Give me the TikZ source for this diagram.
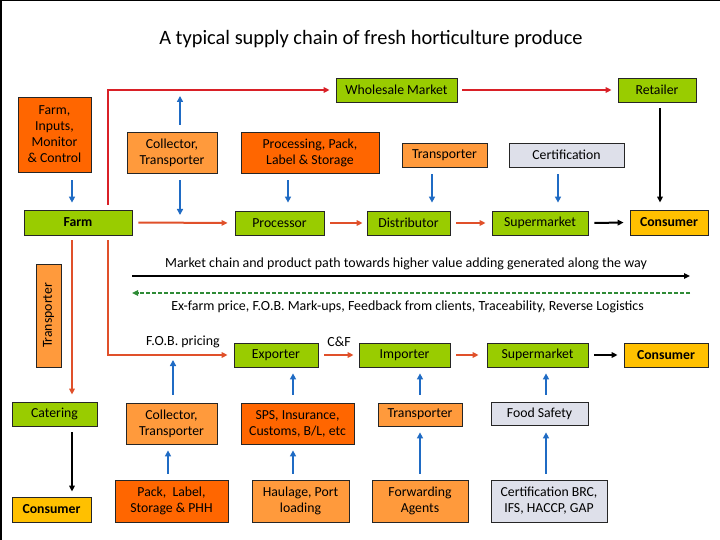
\documentclass[tikz,border=0pt]{standalone}
\usepackage{fontspec}
\setmainfont{Carlito}
\usetikzlibrary{arrows.meta}
\definecolor{boxgreen}{HTML}{99CC00}
\definecolor{darkor}{HTML}{FF6600}
\definecolor{lightor}{HTML}{FF9A3C}
\definecolor{greybox}{HTML}{DEE0EA}
\definecolor{goldbox}{HTML}{FFC000}
\definecolor{redl}{HTML}{D92027}
\definecolor{orl}{HTML}{E0502A}
\definecolor{bluel}{HTML}{1F6BC4}
\definecolor{greendash}{HTML}{2E8B36}
\begin{document}
\begin{tikzpicture}[x=1bp,y=-1bp,
  box/.style={draw=black!85, line width=0.8bp, inner sep=0pt, align=center, font=\fontsize{13.8}{16}\selectfont},
  gbox/.style={box, fill=boxgreen},
  dobox/.style={box, fill=darkor},
  lobox/.style={box, fill=lightor},
  grbox/.style={box, fill=greybox},
  cbox/.style={box, fill=goldbox, font=\fontsize{13.8}{16}\selectfont\bfseries},
  lbl/.style={inner sep=0pt, font=\fontsize{14}{16}\selectfont},
  bluearr/.style={draw=bluel, line width=2.2bp, -{Triangle[length=6bp,width=6bp]}},
  oarr/.style={draw=orl, line width=2bp, -{Triangle[length=6bp,width=5.5bp]}},
  rarr/.style={draw=redl, line width=2bp, -{Triangle[length=6bp,width=5.5bp]}},
  karr/.style={draw=black, line width=2bp, -{Triangle[length=6bp,width=5.5bp]}},
]
\useasboundingbox (0,0) rectangle (720,540);
\fill[white] (0,0) rectangle (720,540);
\draw[black, line width=1.2bp] (0,0.6) -- (720,0.6);
\draw[black, line width=2bp] (1,0) -- (1,540);

\node[inner sep=0pt, font=\fontsize{20.5}{22}\selectfont] (title) at (371,39) {A typical supply chain of fresh horticulture produce};

% top row
\node[dobox, minimum width=73bp, minimum height=75bp] (inputs) at (54.5,134.5) {Farm,\\Inputs,\\Monitor\\\& Control};
\node[lobox, minimum width=90bp, minimum height=41bp] (coll1) at (172,152.5) {Collector,\\Transporter};
\node[dobox, minimum width=138bp, minimum height=41bp] (proc1) at (310,152.5) {Processing, Pack,\\Label \& Storage};
\node[gbox, minimum width=121bp, minimum height=24bp] (wholesale) at (396.5,90) {Wholesale Market};
\node[gbox, minimum width=78bp, minimum height=24bp] (retailer) at (657,90) {Retailer};
\node[lobox, minimum width=85bp, minimum height=24bp] (trans1) at (444.5,155) {Transporter};
\node[grbox, minimum width=115bp, minimum height=24bp] (cert1) at (566.5,155) {Certification};

\node[gbox, minimum width=108bp, minimum height=25bp, font=\fontsize{13.8}{16}\selectfont\bfseries] (farm) at (78,222.5) {Farm};
\node[gbox, minimum width=89bp, minimum height=24bp] (processor) at (279.5,223) {Processor};
\node[gbox, minimum width=83bp, minimum height=24bp] (distributor) at (408.5,223) {Distributor};
\node[gbox, minimum width=96bp, minimum height=24bp] (super1) at (540,223) {Supermarket};
\node[cbox, minimum width=78bp, minimum height=25bp] (consumer1) at (669,222.5) {Consumer};

% middle
\node[lobox, rotate=90, minimum width=103bp, minimum height=25bp] (transV) at (48.5,315.5) {Transporter};
\node[lbl] (mctext) at (406,264) {Market chain and product path towards higher value adding generated along the way};
\coordinate (mcA) at (132,276);
\coordinate (mcB) at (690,276);
\draw[karr] (mcA) -- (mcB);
\coordinate (fbA) at (690,293);
\coordinate (fbB) at (132,293);
\draw[draw=greendash, line width=1.8bp, dash pattern=on 4bp off 2bp, -{Triangle[length=6bp,width=5.5bp]}] (fbA) -- (fbB);
\node[lbl] (fbtext) at (407.5,307) {Ex-farm price, F.O.B. Mark-ups, Feedback from clients, Traceability, Reverse Logistics};
\node[lbl] (fob) at (183,342) {F.O.B. pricing};
\node[lbl] (cf) at (339,342) {C\&F};

\node[gbox, minimum width=84bp, minimum height=24bp] (exporter) at (276,355) {Exporter};
\node[gbox, minimum width=91bp, minimum height=24bp] (importer) at (404.5,355) {Importer};
\node[gbox, minimum width=101bp, minimum height=24bp] (super2) at (537.5,355) {Supermarket};
\node[cbox, minimum width=84bp, minimum height=24bp] (consumer2) at (666,355) {Consumer};

% bottom
\node[gbox, minimum width=85bp, minimum height=24bp] (catering) at (54.5,414) {Catering};
\node[cbox, minimum width=79bp, minimum height=25bp] (consumer3) at (51.5,509.5) {Consumer};
\node[lobox, minimum width=91bp, minimum height=41bp] (coll2) at (171.5,423.5) {Collector,\\Transporter};
\node[dobox, minimum width=113bp, minimum height=41bp] (sps) at (297.5,423.5) {SPS, Insurance,\\Customs, B/L, etc};
\node[lobox, minimum width=84bp, minimum height=23bp] (trans2) at (420,414.5) {Transporter};
\node[grbox, minimum width=97bp, minimum height=23bp] (food) at (539.5,413.5) {Food Safety};
\node[dobox, minimum width=113bp, minimum height=42bp] (pack) at (171.5,501) {Pack,\ \ Label,\\Storage \& PHH};
\node[lobox, minimum width=97bp, minimum height=42bp] (haulage) at (300.5,501) {Haulage, Port\\loading};
\node[lobox, minimum width=96bp, minimum height=42bp] (forwarding) at (420,501) {Forwarding\\Agents};
\node[grbox, minimum width=116bp, minimum height=42bp] (certbrc) at (549,501) {Certification BRC,\\IFS, HACCP, GAP};

% free ends
\coordinate (c1up) at (180,96);
\coordinate (c1down) at (180,215);
\coordinate (c2up) at (173,360);

% connectors top
\draw[bluearr, shorten <=8bp, shorten >=7bp] (72,0 |- inputs.south) -- (72,0 |- farm.north);
\draw[bluearr, shorten <=7bp] (180,0 |- coll1.north) -- (c1up);
\draw[bluearr, shorten <=7bp] (180,0 |- coll1.south) -- (c1down);
\draw[bluearr, shorten <=7bp, shorten >=8bp] (288,0 |- proc1.south) -- (288,0 |- processor.north);
\draw[bluearr, shorten <=7bp, shorten >=8bp] (432,0 |- trans1.south) -- (432,0 |- distributor.north);
\draw[bluearr, shorten <=7bp, shorten >=8bp] (558,0 |- cert1.south) -- (558,0 |- super1.north);
\draw[oarr, shorten <=6bp, shorten >=7bp] (farm.east) -- (processor.west);
\draw[oarr, shorten <=6bp, shorten >=4bp] (processor.east) -- (distributor.west);
\draw[oarr, shorten <=6bp, shorten >=6bp] (distributor.east) -- (super1.west);
\draw[karr, shorten <=6bp, shorten >=6bp] (super1.east) -- (consumer1.west);
\draw[karr, shorten <=6bp, shorten >=7bp] (660,0 |- retailer.south) -- (660,0 |- consumer1.north);
\draw[rarr, shorten <=5bp, shorten >=6bp] (108,0 |- farm.north) |- (wholesale.west);
\draw[rarr, shorten <=5bp, shorten >=6bp] (wholesale.east) -- (retailer.west);

% connectors middle
\draw[oarr, shorten <=5bp, shorten >=7bp] (72,0 |- farm.south) -- (72,0 |- catering.north);
\draw[oarr, shorten <=5bp, shorten >=6bp] (108,0 |- farm.south) |- (exporter.west);
\draw[oarr, shorten <=6bp, shorten >=5bp] (exporter.east) -- (importer.west);
\draw[oarr, shorten <=6bp, shorten >=8bp] (importer.east) -- (super2.west);
\draw[karr, shorten <=6bp, shorten >=6bp] (super2.east) -- (consumer2.west);

% connectors bottom
\draw[karr, shorten <=6bp, shorten >=5bp] (72,0 |- catering.south) -- (72,0 |- consumer3.north);
\draw[bluearr, shorten <=8bp] (173,0 |- coll2.north) -- (c2up);
\draw[bluearr, shorten <=8bp, shorten >=6bp] (293,0 |- sps.north) -- (293,0 |- exporter.south);
\draw[bluearr, shorten <=8bp, shorten >=6bp] (420,0 |- trans2.north) -- (420,0 |- importer.south);
\draw[bluearr, shorten <=7bp, shorten >=6bp] (546,0 |- food.north) -- (546,0 |- super2.south);
\draw[bluearr, shorten <=6bp, shorten >=6bp] (168,0 |- pack.north) -- (168,0 |- coll2.south);
\draw[bluearr, shorten <=6bp, shorten >=6bp] (293,0 |- haulage.north) -- (293,0 |- sps.south);
\draw[bluearr, shorten <=6bp, shorten >=6bp] (420,0 |- forwarding.north) -- (420,0 |- trans2.south);
\draw[bluearr, shorten <=6bp, shorten >=7bp] (546,0 |- certbrc.north) -- (546,0 |- food.south);
\end{tikzpicture}
\end{document}
